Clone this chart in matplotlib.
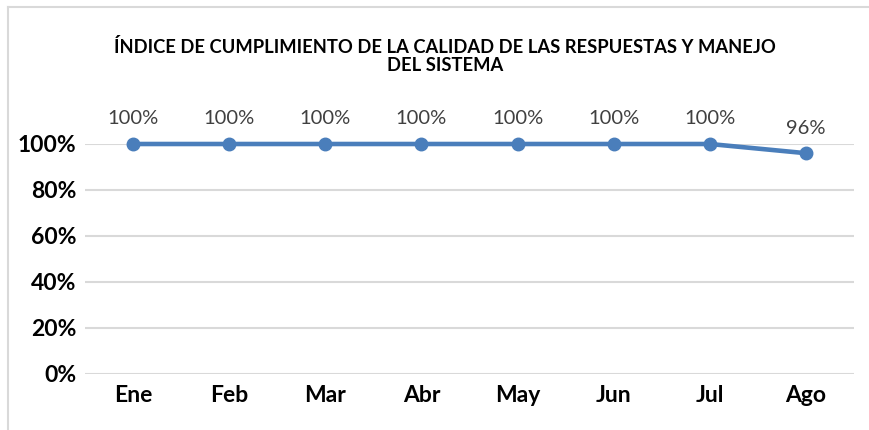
import matplotlib
matplotlib.use("Agg")
import matplotlib.pyplot as plt
from matplotlib.lines import Line2D

months = ["Ene", "Feb", "Mar", "Abr", "May", "Jun", "Jul", "Ago"]
values = [1.00, 1.00, 1.00, 1.00, 1.00, 1.00, 1.00, 0.96]
labels = ["100%", "100%", "100%", "100%", "100%", "100%", "100%", "96%"]
yticks = [0, 0.2, 0.4, 0.6, 0.8, 1.0]
ytick_labels = ["0%", "20%", "40%", "60%", "80%", "100%"]
title = "ÍNDICE DE CUMPLIMIENTO DE LA CALIDAD DE LAS RESPUESTAS Y MANEJO\nDEL SISTEMA"

plt.rcParams['font.family'] = ['Lato', 'DejaVu Sans']

W, H = 869, 430
fig = plt.figure(figsize=(W/100, H/100), dpi=100)
ax = fig.add_axes([85/W, 1-374/H, (854-85)/W, (374-144)/H])

x = list(range(len(months)))
color = "#4A7EBB"
ax.plot(x, values, color=color, lw=3.3, marker="o", markersize=9, clip_on=False, zorder=3)
for xi, v, lab in zip(x, values, labels):
    ax.annotate(lab, (xi, v), xytext=(0, 12), textcoords="offset points",
                ha="center", va="bottom", fontsize=14.5, color="#404040")

ax.set_xlim(-0.5, len(months)-0.5)
ax.set_ylim(0, 1.0)
ax.set_yticks(yticks)
ax.set_yticklabels(ytick_labels, fontsize=16.5, fontweight="bold", color="black")
ax.set_xticks(x)
ax.set_xticklabels(months, fontsize=16.5, fontweight="bold", color="black")
ax.tick_params(length=0, pad=6)
ax.tick_params(axis="x", pad=8)
ax.grid(axis="y", color="#D9D9D9", lw=1.5)
ax.set_axisbelow(True)
for s in ax.spines.values():
    s.set_visible(False)

fig.text(445/W, 1-56/H, title, ha="center", va="center", fontsize=13.2,
         fontweight="bold", color="black", linespacing=1.05)

# chart border
fig.add_artist(Line2D([8/W, 8/W], [0, 1-7/H], color="#D9D9D9", lw=1.5, transform=fig.transFigure))
fig.add_artist(Line2D([8/W, 1], [1-7/H, 1-7/H], color="#D9D9D9", lw=1.5, transform=fig.transFigure))

fig.savefig("out.png", dpi=100)
